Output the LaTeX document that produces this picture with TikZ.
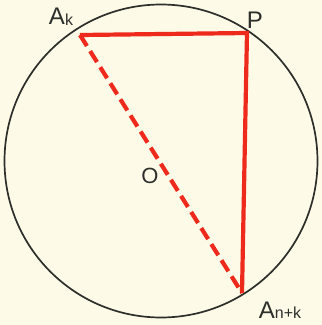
\documentclass[tikz,border=0pt]{standalone}
\usepackage{fontspec}
\setmainfont{Liberation Sans}
\definecolor{paper}{HTML}{FDFBE8}
\definecolor{redline}{HTML}{EE2A1C}
\definecolor{ink}{HTML}{2E2E2A}
\tikzset{
  circ/.style={draw=ink, line width=1.7pt},
  solidred/.style={draw=redline, line width=4.2pt, line join=miter},
  dashred/.style={draw=redline, line width=4.2pt, dash pattern=on 13pt off 6pt},
  lbl/.style={text=ink, inner sep=0pt, font=\fontsize{24}{24}\selectfont}
}
\begin{document}
\begin{tikzpicture}[x=1pt, y=-1pt]
\fill[paper] (0,0) rectangle (322,325);
\useasboundingbox (0,0) rectangle (322,325);
\coordinate (c) at (161,161);
\draw[circ] (c) circle[radius=156.5pt];
\coordinate (Ak) at (80,35);
\coordinate (P) at (247,33);
\coordinate (Ank) at (242,293);
\draw[solidred] (Ak) -- (P) -- (Ank);
\draw[dashred] (Ak) -- (Ank);
\node[lbl] (lAk) at (61,17) {A\raisebox{-1pt}{\fontsize{16}{16}\selectfont k}};
\node[lbl] (lP) at (255,20) {P};
\node[lbl, font=\fontsize{22}{22}\selectfont] (lO) at (150,176) {O};
\node[lbl] (lAnk) at (280,310) {A{\fontsize{16}{16}\selectfont n+k}};
\end{tikzpicture}
\end{document}
